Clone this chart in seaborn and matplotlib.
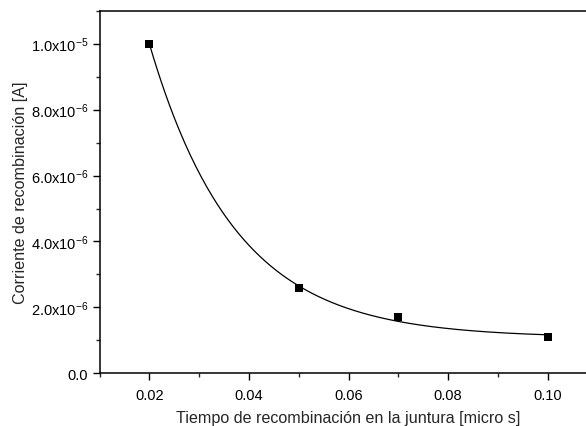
import numpy as np
import pandas as pd
import matplotlib
matplotlib.use('Agg')
import matplotlib.pyplot as plt
import seaborn as sns
from matplotlib.ticker import MultipleLocator, FuncFormatter

# measured points
tiempo = [0.02, 0.05, 0.07, 0.10]
corriente = [1.0e-5, 2.6e-6, 1.7e-6, 1.1e-6]

x_label = 'Tiempo de recombinación en la juntura [micro s]'
y_label = 'Corriente de recombinación [A]'

sns.set_style('ticks')
plt.rcParams['font.family'] = ['Liberation Sans', 'DejaVu Sans']
plt.rcParams['mathtext.fontset'] = 'custom'
plt.rcParams['mathtext.rm'] = 'Liberation Sans'
plt.rcParams['mathtext.it'] = 'Liberation Sans'

df = pd.DataFrame({'t': tiempo, 'i': corriente})

# exponential decay fit y = y0 + A*exp(-x/tau), like the original ExpDec1
xs = df['t'].values
ys = df['i'].values
best = None
for tau in np.linspace(0.002, 0.1, 5000):
    M = np.column_stack([np.ones_like(xs), np.exp(-xs / tau)])
    coef, res, _, _ = np.linalg.lstsq(M, ys, rcond=None)
    err = np.sum((M @ coef - ys) ** 2)
    if best is None or err < best[0]:
        best = (err, tau, coef)
_, tau, (y0, A) = best
x_fit = np.linspace(0.02, 0.10, 300)
fit = pd.DataFrame({'t': x_fit, 'i': y0 + A * np.exp(-x_fit / tau)})

fig = plt.figure(figsize=(5.86, 4.27), dpi=100)
ax = fig.add_axes([0.1698, 0.123, 0.85, 0.850])

sns.lineplot(data=fit, x='t', y='i', color='black', linewidth=0.9, ax=ax)
sns.scatterplot(data=df, x='t', y='i', marker='s', color='black', s=36,
                edgecolor='black', linewidth=0, ax=ax, zorder=3)

ax.set_xlim(0.01, 0.11)
ax.set_ylim(0, 1.1e-5)
ax.xaxis.set_major_locator(MultipleLocator(0.02))
ax.xaxis.set_minor_locator(MultipleLocator(0.01))
ax.yaxis.set_major_locator(MultipleLocator(2e-6))
ax.yaxis.set_minor_locator(MultipleLocator(1e-6))
ax.xaxis.set_major_formatter(FuncFormatter(lambda v, p: f'{v:.2f}'))


def yfmt(v, p):
    if abs(v) < 1e-12:
        return '0.0'
    e = int(np.floor(np.log10(abs(v))))
    m = v / 10 ** e
    return f'{m:.1f}x10$^{{{e}}}$'


ax.yaxis.set_major_formatter(FuncFormatter(yfmt))

ax.tick_params(which='major', direction='out', length=5.2, width=1.0,
               labelsize=10.5, colors='black')
ax.tick_params(which='minor', direction='out', length=3, width=1.0)
ax.tick_params(axis='x', pad=5)
ax.tick_params(axis='y', pad=3)

for s in ['left', 'bottom', 'top']:
    ax.spines[s].set_linewidth(1.1)
    ax.spines[s].set_color('black')
ax.spines['right'].set_visible(False)

ax.set_xlabel(x_label, fontsize=11.6)
ax.set_ylabel(y_label, fontsize=11.6)
ax.xaxis.set_label_coords(0.5, -0.1)
ax.yaxis.set_label_coords(-0.144, 0.5)

plt.savefig('out.png', dpi=100)
